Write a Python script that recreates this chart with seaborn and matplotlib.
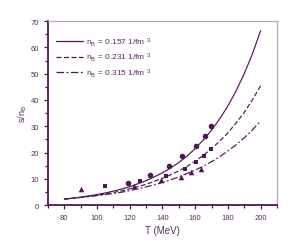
import matplotlib
matplotlib.use("Agg")
import matplotlib.pyplot as plt
import seaborn as sns
import pandas as pd
from matplotlib.ticker import MultipleLocator

# temperature grid of the curves (MeV)
T_curve = [80, 85, 90, 95, 100, 105, 110, 115, 120, 125, 130, 135, 140,
           145, 150, 155, 160, 165, 170, 175, 180, 185, 190, 195, 200]
# s/n_B curves for three densities
s_157 = [2.3, 2.6, 3.0, 3.5, 4.0, 4.6, 5.3, 6.1, 7.0, 8.1, 9.3, 10.7, 12.3,
         14.1, 16.2, 18.6, 21.5, 24.8, 28.5, 32.8, 37.7, 43.4, 50.0, 57.5, 66.3]
s_231 = [2.3, 2.6, 2.9, 3.3, 3.7, 4.2, 4.8, 5.4, 6.2, 7.0, 7.9, 9.0, 10.2,
         11.5, 13.0, 14.7, 16.7, 18.9, 21.5, 24.3, 27.5, 31.2, 35.3, 40.0, 45.4]
s_315 = [2.3, 2.6, 2.9, 3.2, 3.6, 4.0, 4.4, 4.9, 5.5, 6.2, 6.9, 7.7, 8.6,
         9.6, 10.7, 12.0, 13.3, 14.8, 16.5, 18.4, 20.6, 22.9, 25.6, 28.6, 32.0]
labels = ["n$_B$ = 0.157 1/fm $^3$", "n$_B$ = 0.231 1/fm $^3$", "n$_B$ = 0.315 1/fm $^3$"]

# data points
T_circ = [118.8, 132.7, 143.8, 151.8, 160.4, 165.9, 169.4]
s_circ = [8.4, 11.4, 14.7, 18.7, 22.5, 26.1, 29.9]
T_sq = [105.0, 126.0, 142.3, 153.6, 160.4, 165.5, 169.6]
s_sq = [7.1, 9.0, 11.1, 13.7, 16.5, 18.5, 21.3]
T_tri = [90.0, 122.8, 139.3, 151.1, 157.7, 163.4]
s_tri = [6.1, 7.3, 9.4, 10.6, 12.4, 13.9]

main = "#521552"
txt = "#5a2d5e"
light = "#b9a3c2"

sns.set_style("ticks")
plt.rcParams["font.family"] = ["Liberation Sans", "DejaVu Sans"]
plt.rcParams["mathtext.fontset"] = "custom"
plt.rcParams["mathtext.rm"] = "Liberation Sans"
plt.rcParams["mathtext.it"] = "Liberation Sans"

fig = plt.figure(figsize=(2.94, 2.51), dpi=100)
ax = fig.add_axes([0.163, 0.179, 0.779, 0.733])

n = len(T_curve)
curves = pd.DataFrame({
    "T": T_curve * 3,
    "s": s_157 + s_231 + s_315,
    "n": [labels[0]] * n + [labels[1]] * n + [labels[2]] * n,
})
sns.lineplot(data=curves, x="T", y="s", hue="n", style="n",
             palette=[main] * 3, dashes=[(None, None), (4, 2), (6, 2, 1.5, 2)],
             linewidth=0.85, ax=ax, legend=False)
ax.lines[0].set_linestyle("-")

sns.scatterplot(x=T_circ, y=s_circ, marker="o", s=16, color=main, edgecolor=main, linewidth=0, ax=ax)
sns.scatterplot(x=T_sq, y=s_sq, marker="s", s=12, color=main, edgecolor=main, linewidth=0, ax=ax)
sns.scatterplot(x=T_tri, y=s_tri, marker="^", s=16, color=main, edgecolor=main, linewidth=0, ax=ax)

handles = [plt.Line2D([], [], color=main, lw=0.9, ls="-"),
           plt.Line2D([], [], color=main, lw=0.9, dashes=(4, 2)),
           plt.Line2D([], [], color=main, lw=0.9, dashes=(6, 2, 1.5, 2))]
leg = ax.legend(handles, labels, loc="upper left", frameon=False, fontsize=6,
                handlelength=3.2, handletextpad=0.4, labelspacing=0.35,
                bbox_to_anchor=(0.02, 0.94), borderaxespad=0)
for t in leg.get_texts():
    t.set_color(txt)

ax.set_xlim(70, 210)
ax.set_ylim(0, 70)
ax.xaxis.set_major_locator(MultipleLocator(20))
ax.xaxis.set_minor_locator(MultipleLocator(10))
ax.yaxis.set_major_locator(MultipleLocator(10))
ax.yaxis.set_minor_locator(MultipleLocator(5))
ax.tick_params(which="both", direction="out", colors=main, labelcolor=txt, labelsize=5.5, width=0.9)
ax.tick_params(which="major", length=3)
ax.tick_params(which="minor", length=2)

for side in ["left", "bottom"]:
    ax.spines[side].set_color(main)
    ax.spines[side].set_linewidth(1.3)
for side in ["top", "right"]:
    ax.spines[side].set_visible(True)
    ax.spines[side].set_color(light)
    ax.spines[side].set_linewidth(0.9)

ax.set_xlabel("T (MeV)", color=txt, fontsize=7, labelpad=3)
ax.set_ylabel("s/n$_B$", color=txt, fontsize=6.5, labelpad=1)

fig.savefig("out.png", dpi=100)
